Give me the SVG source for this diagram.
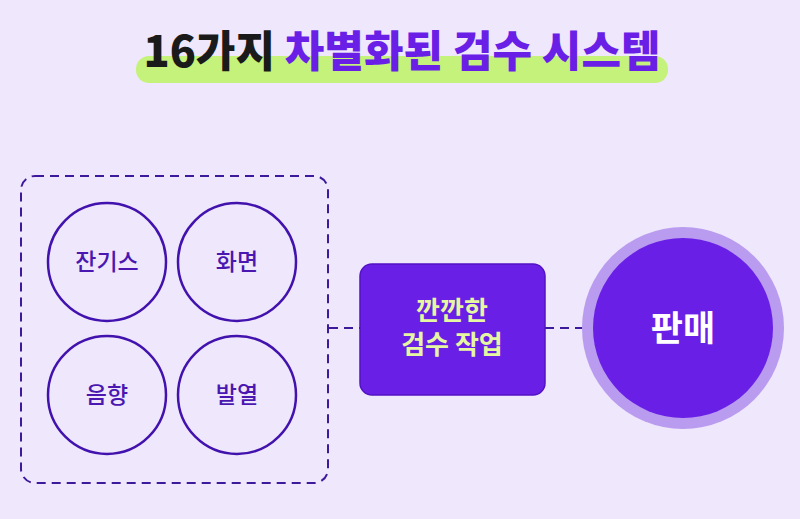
<svg xmlns="http://www.w3.org/2000/svg" width="800" height="519" viewBox="0 0 800 519">
<style>
.t{font-family:"Noto Sans CJK KR","Noto Sans",sans-serif}
.ring{fill:none;stroke:#4212ae;stroke-width:2.5}
.lbl{font-size:23px;font-weight:500;fill:#4a17b0;text-anchor:middle}
.dash{fill:none;stroke:#3d1a9c;stroke-width:2;stroke-dasharray:9 6}
</style>
<rect width="800" height="519" fill="#efe7fb"/>
<g id="title">
<rect x="136" y="56" width="532" height="27" rx="13" fill="#c4f27a"/>
<text class="t" x="402" y="67" font-size="43" font-weight="900" text-anchor="middle" letter-spacing="0"><tspan fill="#1a1a1a">16가지 </tspan><tspan fill="#6a1fe6">차별화된 검수 시스템</tspan></text>
</g>
<g id="group">
<rect class="dash" x="21" y="176" width="307" height="307" rx="14"/>
</g>
<g id="n1"><circle class="ring" cx="107" cy="262" r="59"/><text class="t lbl" x="107" y="270">잔기스</text></g>
<g id="n2"><circle class="ring" cx="237" cy="262" r="59"/><text class="t lbl" x="237" y="270">화면</text></g>
<g id="n3"><circle class="ring" cx="107" cy="395" r="59"/><text class="t lbl" x="107" y="403">음향</text></g>
<g id="n4"><circle class="ring" cx="237" cy="395" r="59"/><text class="t lbl" x="237" y="403">발열</text></g>
<g id="connectors">
<line class="dash" x1="329" y1="328" x2="360" y2="328"/>
<line class="dash" x1="545" y1="328" x2="595" y2="328"/>
</g>
<g id="work">
<rect x="360" y="264" width="185" height="131" rx="12" fill="#6a1fe6" stroke="#5313c4" stroke-width="1.5"/>
<text class="t" x="452" y="320" font-size="26" font-weight="700" fill="#e6f7a2" text-anchor="middle">깐깐한</text>
<text class="t" x="452" y="354" font-size="26" font-weight="700" fill="#e6f7a2" text-anchor="middle">검수 작업</text>
</g>
<g id="sale">
<circle cx="683" cy="328" r="101" fill="#b99cf0"/>
<circle cx="683" cy="328" r="90" fill="#6a1fe6"/>
<text class="t" x="683" y="341" font-size="35" font-weight="700" fill="#ffffff" text-anchor="middle">판매</text>
</g>
</svg>
